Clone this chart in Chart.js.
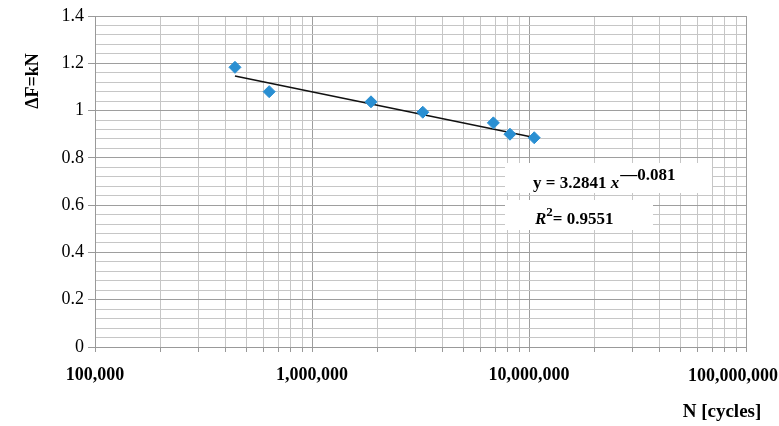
<!DOCTYPE html>
<html>
<head>
<meta charset="utf-8">
<script src="https://cdn.jsdelivr.net/npm/chart.js@4.4.1/dist/chart.umd.min.js"></script>
<style>
  html, body { margin: 0; padding: 0; background: #fff; }
  #wrap { width: 779px; height: 426px; }
</style>
</head>
<body>
<div id="wrap"><canvas id="c" width="779" height="426"></canvas></div>
<script>
// test data
const cycles = [441600, 635000, 1870000, 3240000, 6850000, 8170000, 10570000];
const deltaF = [1.183, 1.080, 1.037, 0.993, 0.948, 0.900, 0.885];

// power trendline y = a * x^b
const fitA = 3.2841;
const fitB = -0.081;
const fitR2 = '0.9551';

const xDecades = [100000, 1000000, 10000000, 100000000];
const yMinorStep = 0.04;
const yMajorStep = 0.2;
const yMax = 1.4;

const FONT = '"Liberation Serif", "Times New Roman", serif';
const MARKER = '#2a8fd2';

const trend = [cycles[0], cycles[cycles.length - 1]].map(x => ({ x: x, y: fitA * Math.pow(x, fitB) }));

function isDecade(v) {
  const l = Math.log10(v);
  return Math.abs(l - Math.round(l)) < 1e-9;
}
function isYMajor(v) {
  const r = v / yMajorStep;
  return Math.abs(r - Math.round(r)) < 1e-6;
}

// fixed label / annotation overlay
const extras = {
  id: 'extras',
  afterDraw(chart) {
    const ctx = chart.ctx;
    ctx.save();

    // last x label is pulled in so it stays on the canvas
    ctx.fillStyle = '#000';
    ctx.font = 'bold 18px ' + FONT;
    ctx.textAlign = 'right';
    ctx.textBaseline = 'middle';
    ctx.fillText(xDecades[3].toLocaleString('en-US'), 778, 376);

    // equation boxes
    ctx.fillStyle = '#fff';
    ctx.fillRect(505, 163, 207, 30);
    ctx.fillRect(505, 200, 148, 30);

    ctx.fillStyle = '#000';
    ctx.textAlign = 'left';
    ctx.textBaseline = 'alphabetic';
    let x = 533;
    ctx.font = 'bold 17px ' + FONT;
    const eq = 'y = ' + fitA + ' ';
    ctx.fillText(eq, x, 188);
    x += ctx.measureText(eq).width;
    ctx.font = 'italic bold 17px ' + FONT;
    ctx.fillText('x', x, 188);
    x += ctx.measureText('x').width + 1;
    ctx.font = 'bold 17px ' + FONT;
    ctx.fillText('\u2014' + String(-fitB), x, 180);

    x = 535;
    ctx.font = 'italic bold 17px ' + FONT;
    ctx.fillText('R', x, 224);
    x += ctx.measureText('R').width;
    ctx.font = 'bold 13px ' + FONT;
    ctx.fillText('2', x, 216);
    x += ctx.measureText('2').width;
    ctx.font = 'bold 17px ' + FONT;
    ctx.fillText('= ' + fitR2, x, 224);

    // axis titles
    ctx.font = 'bold 19px ' + FONT;
    ctx.textAlign = 'center';
    ctx.textBaseline = 'middle';
    ctx.fillText('N [cycles]', 722, 412);

    ctx.translate(33, 81);
    ctx.rotate(-Math.PI / 2);
    ctx.font = 'bold 18px ' + FONT;
    ctx.fillText('\u0394F=kN', 0, 0);
    ctx.restore();
  }
};

const ctx = document.getElementById('c').getContext('2d');
new Chart(ctx, {
  type: 'scatter',
  data: {
    datasets: [
      {
        label: 'trend',
        type: 'line',
        data: trend,
        borderColor: '#111',
        borderWidth: 1.5,
        pointRadius: 0,
        fill: false,
        order: 2
      },
      {
        label: 'tests',
        data: cycles.map((c, i) => ({ x: c, y: deltaF[i] })),
        pointStyle: 'rectRot',
        pointRadius: 6,
        backgroundColor: MARKER,
        borderColor: MARKER,
        borderWidth: 1,
        order: 1
      }
    ]
  },
  options: {
    responsive: false,
    animation: false,
    devicePixelRatio: 1,
    layout: { padding: { left: 0, right: 33, top: 16, bottom: 0 } },
    plugins: {
      legend: { display: false },
      tooltip: { enabled: false }
    },
    scales: {
      x: {
        type: 'logarithmic',
        min: xDecades[0],
        max: xDecades[3],
        afterBuildTicks: (scale) => {
          const t = [];
          for (let d = 0; d < xDecades.length - 1; d++) {
            for (let k = 1; k <= 9; k++) t.push({ value: xDecades[d] * k });
          }
          t.push({ value: xDecades[xDecades.length - 1] });
          scale.ticks = t;
        },
        afterFit: (scale) => {
          scale.height = 79;
          scale.paddingLeft = 0;
          scale.paddingRight = 0;
        },
        border: { color: '#999' },
        grid: {
          color: (c) => (c.tick && isDecade(c.tick.value) ? '#9e9e9e' : '#c6c6c6'),
          tickColor: '#999',
          tickLength: 5
        },
        ticks: {
          autoSkip: false,
          maxRotation: 0,
          padding: 13,
          color: '#000',
          font: { family: FONT, size: 18, weight: 'bold' },
          callback: (v) => (isDecade(v) && v < xDecades[3] ? Number(v).toLocaleString('en-US') : '')
        }
      },
      y: {
        min: 0,
        max: yMax,
        afterBuildTicks: (scale) => {
          const t = [];
          const n = Math.round(yMax / yMinorStep);
          for (let i = 0; i <= n; i++) t.push({ value: Math.round(i * yMinorStep * 100) / 100 });
          scale.ticks = t;
        },
        afterFit: (scale) => { scale.width = 95; },
        border: { color: '#999' },
        grid: {
          color: (c) => (c.tick && isYMajor(c.tick.value) ? '#9e9e9e' : '#c6c6c6'),
          tickColor: (c) => (c.tick && isYMajor(c.tick.value) ? '#999' : 'rgba(0,0,0,0)'),
          tickLength: 7
        },
        ticks: {
          autoSkip: false,
          padding: 4,
          color: '#000',
          font: { family: FONT, size: 18 },
          callback: (v) => (isYMajor(v) ? String(Math.round(v * 10) / 10) : '')
        }
      }
    }
  },
  plugins: [extras]
});
</script>
</body>
</html>
